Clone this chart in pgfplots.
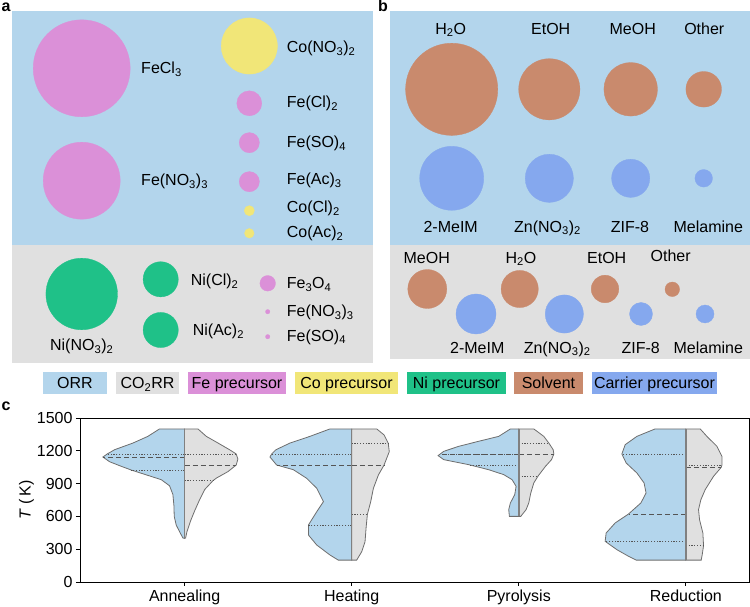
\documentclass[border=0pt]{standalone}
\usepackage{pgfplots}
\pgfplotsset{compat=1.18}
\usepackage{fontspec}
\setmainfont{Liberation Sans}
\definecolor{orrblue}{HTML}{B3D5EC}
\definecolor{bggray}{HTML}{E0E0E0}
\definecolor{fepink}{HTML}{DB90D8}
\definecolor{coyellow}{HTML}{F1E678}
\definecolor{nigreen}{HTML}{1FC188}
\definecolor{solvent}{HTML}{C98A6D}
\definecolor{carrier}{HTML}{85A8EE}
\definecolor{outl}{HTML}{6E6E6E}
\definecolor{cline}{HTML}{808080}
\definecolor{qcol}{HTML}{555555}
\newcommand{\bub}[4]{\addplot[only marks, mark=*, mark size=#4pt, color=#1, mark options={draw=#1, fill=#1, line width=0.3pt}] coordinates {(#2,#3)};}
\begin{document}
\begin{tikzpicture}[font=\fontsize{16}{19}\selectfont]
\path[use as bounding box] (0,0) rectangle (750pt,607pt);
\begin{axis}[at={(0pt,0pt)}, anchor=south west, width=750pt, height=607pt, scale only axis,
  xmin=0, xmax=750, ymin=0, ymax=607, y dir=reverse, hide axis, clip=false]
% backgrounds
\fill[orrblue] (axis cs:12,11) rectangle (axis cs:373,245);
\fill[bggray] (axis cs:12,245) rectangle (axis cs:373,363);
\fill[orrblue] (axis cs:390,11) rectangle (axis cs:750,245);
\fill[bggray] (axis cs:390,245) rectangle (axis cs:750,359);
% panel a bubbles
\bub{fepink}{81.7}{68.3}{48.5}
\bub{fepink}{81.7}{180.7}{38.5}
\bub{coyellow}{249.3}{46}{28.1}
\bub{fepink}{249.3}{103.3}{12.5}
\bub{fepink}{249.3}{142.7}{10.1}
\bub{fepink}{249.3}{181.7}{10.1}
\bub{coyellow}{249.3}{210.7}{5.1}
\bub{coyellow}{249.3}{233.3}{4.8}
\bub{nigreen}{81.7}{294}{35.8}
\bub{nigreen}{160.7}{279.3}{17.6}
\bub{nigreen}{160.7}{330}{17.6}
\bub{fepink}{267.7}{283.3}{7.8}
\bub{fepink}{267.7}{311.7}{2.2}
\bub{fepink}{267.7}{336.7}{2.2}
% panel b bubbles
\bub{solvent}{451.7}{89.3}{46.1}
\bub{solvent}{549.3}{89.3}{30.6}
\bub{solvent}{630.7}{89.3}{26.8}
\bub{solvent}{703.7}{89.3}{17.8}
\bub{carrier}{451.7}{178.3}{32}
\bub{carrier}{549.3}{178.3}{24.1}
\bub{carrier}{630.7}{178.3}{19.1}
\bub{carrier}{703.7}{178.3}{8.8}
\bub{solvent}{427.3}{289}{19.5}
\bub{solvent}{519.7}{289}{18.6}
\bub{solvent}{605}{289}{13.8}
\bub{solvent}{672.3}{289.3}{7.3}
\bub{carrier}{476}{314}{20}
\bub{carrier}{564.3}{314}{19.1}
\bub{carrier}{641}{314}{11.5}
\bub{carrier}{705}{314}{9}
% panel a labels
\node[anchor=base west] at (axis cs:137.7,74) {FeCl\textsubscript{3}};
\node[anchor=base west] at (axis cs:137.7,186) {Fe(NO\textsubscript{3})\textsubscript{3}};
\node[anchor=base west] at (axis cs:283.3,52.5) {Co(NO\textsubscript{3})\textsubscript{2}};
\node[anchor=base west] at (axis cs:283.3,107.5) {Fe(Cl)\textsubscript{2}};
\node[anchor=base west] at (axis cs:283.3,147.5) {Fe(SO)\textsubscript{4}};
\node[anchor=base west] at (axis cs:283.3,184.5) {Fe(Ac)\textsubscript{3}};
\node[anchor=base west] at (axis cs:283.3,212.5) {Co(Cl)\textsubscript{2}};
\node[anchor=base west] at (axis cs:283.3,238) {Co(Ac)\textsubscript{2}};
\node[anchor=base] at (axis cs:81.7,351) {Ni(NO\textsubscript{3})\textsubscript{2}};
\node[anchor=base west] at (axis cs:187.3,285.5) {Ni(Cl)\textsubscript{2}};
\node[anchor=base west] at (axis cs:189.3,336) {Ni(Ac)\textsubscript{2}};
\node[anchor=base west] at (axis cs:283.3,289) {Fe\textsubscript{3}O\textsubscript{4}};
\node[anchor=base west] at (axis cs:283.3,317) {Fe(NO\textsubscript{3})\textsubscript{3}};
\node[anchor=base west] at (axis cs:283.3,341.3) {Fe(SO)\textsubscript{4}};
% panel b labels
\node[anchor=base] at (axis cs:450.7,34.3) {H\textsubscript{2}O};
\node[anchor=base] at (axis cs:550.7,34.3) {EtOH};
\node[anchor=base] at (axis cs:632.7,34.3) {MeOH};
\node[anchor=base] at (axis cs:704.3,34.3) {Other};
\node[anchor=base] at (axis cs:450.7,232.3) {2-MeIM};
\node[anchor=base] at (axis cs:547.5,232.3) {Zn(NO\textsubscript{3})\textsubscript{2}};
\node[anchor=base] at (axis cs:630,232.3) {ZIF-8};
\node[anchor=base] at (axis cs:708.3,232.3) {Melamine};
\node[anchor=base] at (axis cs:426.7,263.3) {MeOH};
\node[anchor=base] at (axis cs:521,263.3) {H\textsubscript{2}O};
\node[anchor=base] at (axis cs:606.7,263.3) {EtOH};
\node[anchor=base] at (axis cs:670.7,261.6) {Other};
\node[anchor=base] at (axis cs:477.3,353.3) {2-MeIM};
\node[anchor=base] at (axis cs:557.2,353.3) {Zn(NO\textsubscript{3})\textsubscript{2}};
\node[anchor=base] at (axis cs:640.7,353.3) {ZIF-8};
\node[anchor=base] at (axis cs:708.3,353.3) {Melamine};
% panel letters
\node[anchor=base west, inner sep=0pt] at (axis cs:1.5,11.7) {\textbf{a}};
\node[anchor=base west, inner sep=0pt] at (axis cs:378,11.7) {\textbf{b}};
\node[anchor=base west, inner sep=0pt] at (axis cs:1.5,411) {\textbf{c}};
% legend boxes
\fill[orrblue] (axis cs:43,372) rectangle (axis cs:107,394);
\fill[bggray] (axis cs:116,372) rectangle (axis cs:179,394);
\fill[fepink] (axis cs:188,372) rectangle (axis cs:286,394);
\fill[coyellow] (axis cs:295,372) rectangle (axis cs:398,394);
\fill[nigreen] (axis cs:407,372) rectangle (axis cs:506,394);
\fill[solvent] (axis cs:514,372) rectangle (axis cs:583,394);
\fill[carrier] (axis cs:592,372) rectangle (axis cs:717,394);
\node[anchor=base] at (axis cs:75,389) {ORR};
\node[anchor=base] at (axis cs:147.5,389) {CO\textsubscript{2}RR};
\node[anchor=base] at (axis cs:237,389) {Fe precursor};
\node[anchor=base] at (axis cs:346.5,389) {Co precursor};
\node[anchor=base] at (axis cs:456.5,389) {Ni precursor};
\node[anchor=base] at (axis cs:548.5,389) {Solvent};
\node[anchor=base] at (axis cs:654.5,389) {Carrier precursor};
\end{axis}

\begin{axis}[at={(80pt,25pt)}, anchor=south west, width=669pt, height=164pt, scale only axis,
  xmin=-0.626, xmax=3.378, ymin=0, ymax=1500,
  ytick={0,300,600,900,1200,1500}, xtick={0,1,2,3},
  xticklabels={Annealing,Heating,Pyrolysis,Reduction},
  tick align=outside, xtick pos=bottom, ytick pos=left, major tick length=4pt,
  axis line style={line width=0.8pt}, tick style={line width=0.8pt, black},
  ylabel={\textit{T} (\,K)}, ylabel shift=-4pt,
  /pgf/number format/assume math mode=true,
  /pgf/number format/1000 sep={},
  clip=false,
  q/.style={draw=qcol, line width=0.7pt, dash pattern=on 1.2pt off 1.6pt},
  m/.style={draw=qcol, line width=0.7pt, dash pattern=on 5pt off 3pt},
  vb/.style={fill=orrblue, draw=outl, line width=0.8pt},
  vg/.style={fill=bggray, draw=outl, line width=0.8pt}]
% Annealing
\addplot[vb] coordinates {(0,1400) (-0.150,1400) (-0.220,1332) (-0.309,1271) (-0.419,1210) (-0.463,1171) (-0.489,1143) (-0.449,1100) (-0.379,1058) (-0.319,1024) (-0.240,985) (-0.140,936) (-0.090,880) (-0.070,800) (-0.064,700) (-0.062,600) (-0.050,520) (-0.030,460) (-0.010,402) (0,400)} -- cycle;
\addplot[vg] coordinates {(0,1400) (0.080,1400) (0.130,1332) (0.200,1271) (0.269,1210) (0.309,1171) (0.319,1125) (0.309,1070) (0.260,1010) (0.190,950) (0.170,927) (0.120,845) (0.090,753) (0.060,650) (0.036,560) (0.014,460) (0.006,402) (0,400)} -- cycle;
% Heating
\addplot[vb] coordinates {(1,1400) (0.870,1400) (0.750,1332) (0.631,1271) (0.547,1210) (0.521,1171) (0.511,1143) (0.541,1088) (0.551,1070) (0.651,1027) (0.731,948) (0.791,857) (0.831,735) (0.791,643) (0.741,521) (0.741,430) (0.791,338) (0.870,247) (0.920,200) (1,200)} -- cycle;
\addplot[vg] coordinates {(1,1400) (1.150,1400) (1.194,1345) (1.219,1268) (1.225,1192) (1.194,1070) (1.160,979) (1.130,857) (1.114,735) (1.094,619) (1.086,491) (1.080,369) (1.060,277) (1.030,200) (1,200)} -- cycle;
% Pyrolysis
\addplot[vb] coordinates {(2,1400) (1.950,1400) (1.880,1332) (1.760,1287) (1.641,1241) (1.551,1195) (1.517,1156) (1.551,1119) (1.701,1073) (1.820,1027) (1.910,982) (1.960,936) (1.984,875) (1.976,799) (1.950,723) (1.940,662) (1.944,600) (2,600)} -- cycle;
\addplot[vg] coordinates {(2,1400) (2.090,1400) (2.150,1332) (2.180,1271) (2.206,1210) (2.210,1171) (2.196,1119) (2.160,1058) (2.116,970) (2.090,906) (2.072,814) (2.060,723) (2.044,662) (2.020,616) (2.012,600) (2,600)} -- cycle;
% Reduction
\addplot[vb] coordinates {(3,1400) (2.816,1400) (2.707,1332) (2.637,1256) (2.617,1171) (2.643,1088) (2.707,997) (2.750,906) (2.762,814) (2.731,723) (2.657,622) (2.577,540) (2.523,448) (2.517,372) (2.587,296) (2.657,235) (2.703,200) (3,200)} -- cycle;
\addplot[vg] coordinates {(3,1400) (3.086,1400) (3.126,1332) (3.186,1241) (3.216,1149) (3.216,1070) (3.212,1049) (3.166,967) (3.116,845) (3.090,753) (3.076,662) (3.082,570) (3.102,448) (3.106,332) (3.098,250) (3.092,200) (3,200)} -- cycle;
% quartiles
\addplot[q] coordinates {(0,1171) (-0.463,1171)};
\addplot[m] coordinates {(0,1143) (-0.489,1143)};
\addplot[q] coordinates {(0,1024) (-0.319,1024)};
\addplot[q] coordinates {(0,1171) (0.309,1171)};
\addplot[m] coordinates {(0,1070) (0.309,1070)};
\addplot[q] coordinates {(0,927) (0.170,927)};
\addplot[q] coordinates {(1,1171) (0.521,1171)};
\addplot[m] coordinates {(1,1070) (0.551,1070)};
\addplot[q] coordinates {(1,521) (0.741,521)};
\addplot[q] coordinates {(1,1268) (1.219,1268)};
\addplot[m] coordinates {(1,1070) (1.194,1070)};
\addplot[q] coordinates {(1,619) (1.094,619)};
\addplot[q] coordinates {(2,1171) (1.533,1171)};
\addplot[m] coordinates {(2,1165) (1.525,1165)};
\addplot[q] coordinates {(2,1070) (1.705,1070)};
\addplot[q] coordinates {(2,1271) (2.180,1271)};
\addplot[m] coordinates {(2,1171) (2.210,1171)};
\addplot[q] coordinates {(2,970) (2.116,970)};
\addplot[q] coordinates {(3,1171) (2.617,1171)};
\addplot[m] coordinates {(3,622) (2.657,622)};
\addplot[q] coordinates {(3,372) (2.517,372)};
\addplot[q] coordinates {(3,1070) (3.216,1070)};
\addplot[m] coordinates {(3,1049) (3.212,1049)};
\addplot[q] coordinates {(3,332) (3.106,332)};
% center lines
\addplot[draw=cline, line width=1.6pt] coordinates {(0,400) (0,1400)};
\addplot[draw=cline, line width=1.6pt] coordinates {(1,200) (1,1400)};
\addplot[draw=cline, line width=1.6pt] coordinates {(2,600) (2,1400)};
\addplot[draw=cline, line width=1.6pt] coordinates {(3,200) (3,1400)};
\end{axis}
\end{tikzpicture}
\end{document}
